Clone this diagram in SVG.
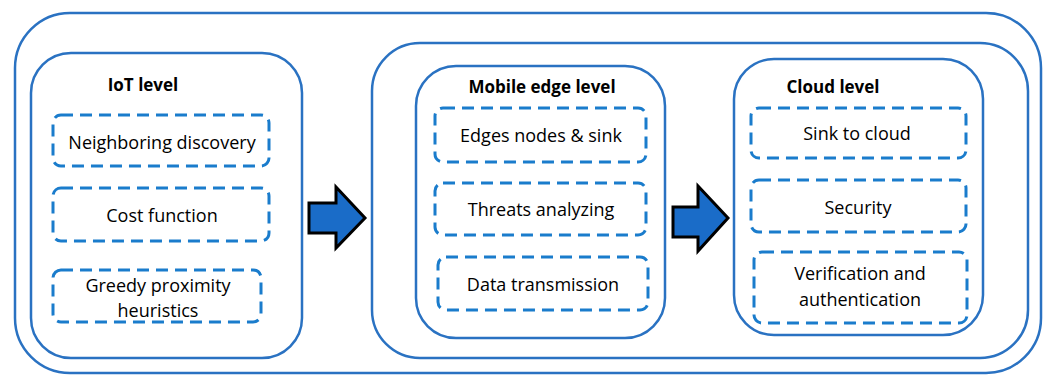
<svg xmlns="http://www.w3.org/2000/svg" width="1049" height="376" viewBox="0 0 1049 376">
<style>
.frame{fill:none;stroke:#2a72c2;stroke-width:2.5}
.dash{fill:none;stroke:#1a7ccc;stroke-width:3;stroke-dasharray:12 7}
.title{font-family:"Open Sans","Liberation Sans",sans-serif;font-weight:bold;font-size:17px;fill:#000;text-anchor:middle}
.lbl{font-family:"Open Sans","Liberation Sans",sans-serif;font-size:18px;fill:#000;text-anchor:middle}
.arrow{fill:#1a6cc8;stroke:#000;stroke-width:3;stroke-linejoin:miter}
</style>
<rect width="1049" height="376" fill="#fff"/>
<g id="outer"><rect class="frame" x="15" y="13" width="1026" height="360" rx="55"/></g>
<g id="edge-cloud-container"><rect class="frame" x="372" y="43" width="656" height="315" rx="48"/></g>
<g id="iot">
<rect class="frame" x="31" y="53" width="271" height="305" rx="40"/>
<text class="title" x="143" y="91">IoT level</text>
<rect class="dash" x="53" y="115" width="216" height="51" rx="8"/>
<text class="lbl" x="162" y="149">Neighboring discovery</text>
<rect class="dash" x="53" y="188" width="216" height="53" rx="8"/>
<text class="lbl" x="162" y="222">Cost function</text>
<rect class="dash" x="53" y="270" width="208" height="52" rx="8"/>
<text class="lbl" x="158" y="292">Greedy proximity</text>
<text class="lbl" x="158" y="317">heuristics</text>
</g>
<g id="mobile-edge">
<rect class="frame" x="416" y="66" width="249" height="272" rx="40"/>
<text class="title" x="542" y="93">Mobile edge level</text>
<rect class="dash" x="435" y="108" width="211" height="54" rx="8"/>
<text class="lbl" x="541" y="142">Edges nodes &amp; sink</text>
<rect class="dash" x="435" y="183" width="211" height="52" rx="8"/>
<text class="lbl" x="541" y="216">Threats analyzing</text>
<rect class="dash" x="438" y="257" width="210" height="53" rx="8"/>
<text class="lbl" x="543" y="291">Data transmission</text>
</g>
<g id="cloud">
<rect class="frame" x="734" y="59" width="249" height="276" rx="40"/>
<text class="title" x="833" y="93">Cloud level</text>
<rect class="dash" x="751" y="108" width="215" height="50" rx="8"/>
<text class="lbl" x="857" y="140">Sink to cloud</text>
<rect class="dash" x="751" y="180" width="215" height="52" rx="8"/>
<text class="lbl" x="858" y="214">Security</text>
<rect class="dash" x="754" y="252" width="213" height="71" rx="8"/>
<text class="lbl" x="860" y="280">Verification and</text>
<text class="lbl" x="860" y="306">authentication</text>
</g>
<g id="connectors">
<polygon class="arrow" points="309,203 336,203 336,187 365,218 336,248 336,233 309,233"/>
<polygon class="arrow" points="673,207 698,207 698,186 728,218 698,251 698,237 673,237"/>
</g>
</svg>
